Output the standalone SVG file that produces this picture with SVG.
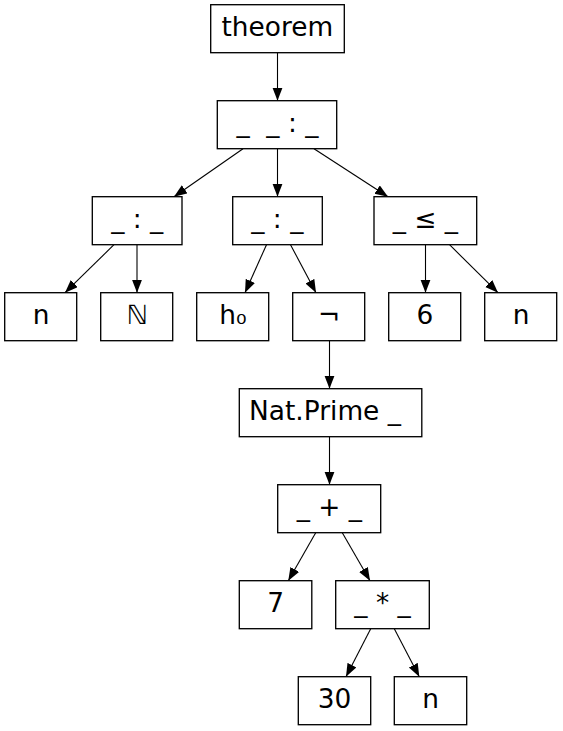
<svg xmlns="http://www.w3.org/2000/svg" width="563" height="731" viewBox="0 0 563 731">
<defs>
<style>
.n rect{fill:#fff;stroke:#000;stroke-width:1.33}
.n text{font-family:"DejaVu Sans",sans-serif;font-size:26.4px;fill:#000;text-anchor:middle}
#edges line{stroke:#000;stroke-width:1.1;marker-end:url(#ah)}
</style>
<marker id="ah" markerUnits="userSpaceOnUse" markerWidth="14" markerHeight="11" refX="13" refY="5" orient="auto">
<path d="M0,0 L13,5 L0,10 Z" fill="#000"/>
</marker>
</defs>
<rect width="563" height="731" fill="#fff"/>
<g id="edges">
<line x1="277.5" y1="52.7" x2="277.5" y2="100.7"/>
<line x1="243" y1="148.7" x2="174" y2="196.7"/>
<line x1="277.5" y1="148.7" x2="277.5" y2="196.7"/>
<line x1="314" y1="148.7" x2="388" y2="196.7"/>
<line x1="114" y1="244.7" x2="65" y2="292.7"/>
<line x1="137" y1="244.7" x2="137" y2="292.7"/>
<line x1="266.5" y1="244.7" x2="245" y2="292.7"/>
<line x1="290.5" y1="244.7" x2="316" y2="292.7"/>
<line x1="425.5" y1="244.7" x2="425.5" y2="292.7"/>
<line x1="449.5" y1="244.7" x2="498" y2="292.7"/>
<line x1="329.5" y1="340.7" x2="329.5" y2="388.7"/>
<line x1="329.5" y1="436.7" x2="329.5" y2="484.7"/>
<line x1="315.7" y1="532.7" x2="288.3" y2="580.7"/>
<line x1="342.3" y1="532.7" x2="370" y2="580.7"/>
<line x1="370.7" y1="628.7" x2="346" y2="676.7"/>
<line x1="394.3" y1="628.7" x2="419.3" y2="676.7"/>
</g>
<g id="theorem" class="n"><rect x="210.7" y="4.7" width="133.6" height="48"/><text x="277.3" y="35.7">theorem</text></g>
<g id="root" class="n"><rect x="217.3" y="100.7" width="119.4" height="48"/><text x="277.4" y="131.7" xml:space="preserve">_  _ : _</text></g>
<g id="colonL" class="n"><rect x="92.3" y="196.7" width="89.7" height="48"/><text x="137.2" y="227.7" xml:space="preserve">_ : _</text></g>
<g id="colonM" class="n"><rect x="232.7" y="196.7" width="89.6" height="48"/><text x="277.3" y="227.7" xml:space="preserve">_ : _</text></g>
<g id="le" class="n"><rect x="374" y="196.7" width="102.7" height="48"/><text x="425.3" y="227.7" xml:space="preserve">_ ≤ _</text></g>
<g id="n1" class="n"><rect x="4.7" y="292.7" width="72" height="48"/><text x="41.2" y="323.7">n</text></g>
<g id="nat" class="n"><rect x="100.7" y="292.7" width="72" height="48"/><text x="137" y="323.7">ℕ</text></g>
<g id="h0" class="n"><rect x="196.7" y="292.7" width="72" height="48"/><text x="233" y="323.7">h₀</text></g>
<g id="not" class="n"><rect x="292.7" y="292.7" width="72" height="48"/><text x="329" y="323.7">¬</text></g>
<g id="six" class="n"><rect x="388.7" y="292.7" width="72" height="48"/><text x="425" y="323.7">6</text></g>
<g id="n2" class="n"><rect x="484.7" y="292.7" width="72" height="48"/><text x="521" y="323.7">n</text></g>
<g id="prime" class="n"><rect x="239.3" y="388.7" width="182.5" height="48"/><text x="325" y="419.7" xml:space="preserve">Nat.Prime _</text></g>
<g id="plus" class="n"><rect x="277.7" y="484.7" width="103" height="48"/><text x="329.4" y="515.7" xml:space="preserve">_ + _</text></g>
<g id="seven" class="n"><rect x="239.3" y="580.7" width="72.5" height="48"/><text x="275.7" y="611.7">7</text></g>
<g id="times" class="n"><rect x="335.7" y="580.7" width="93.6" height="48"/><text x="382.5" y="611.7" xml:space="preserve">_ * _</text></g>
<g id="thirty" class="n"><rect x="298.3" y="676.7" width="72.4" height="48"/><text x="334.5" y="707.7">30</text></g>
<g id="n3" class="n"><rect x="394.3" y="676.7" width="72.4" height="48"/><text x="430.5" y="707.7">n</text></g>
</svg>
